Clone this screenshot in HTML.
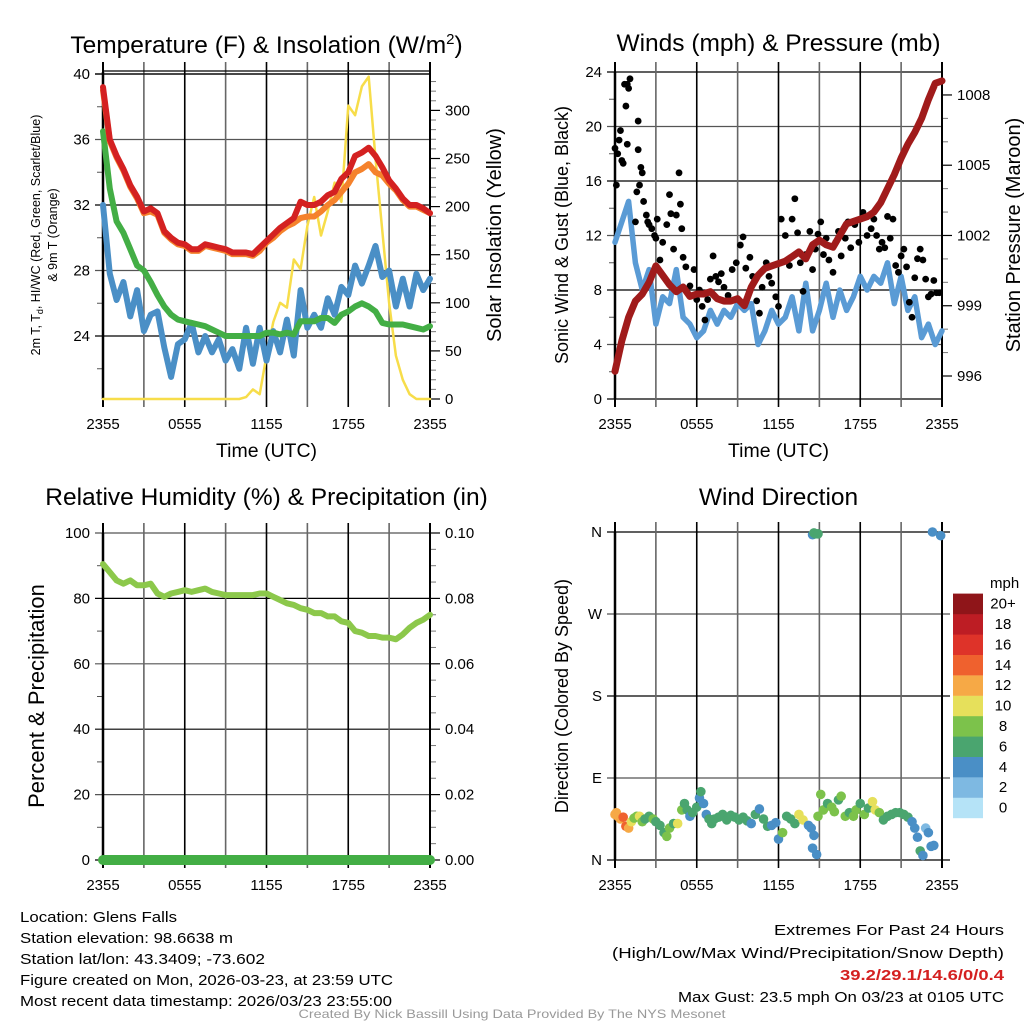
<!DOCTYPE html>
<html><head><meta charset="utf-8"><style>
html,body{margin:0;padding:0;background:#fff}
svg{display:block;font-family:"Liberation Sans",Arial,sans-serif}
</style></head><body>
<svg id="root" width="1024" height="1024" viewBox="0 0 1024 1024" xmlns="http://www.w3.org/2000/svg">
<rect width="1024" height="1024" fill="#fff"/>
<g id="g"></g>
<g font-size="15" fill="#000">
<text x="20" y="922" textLength="157" lengthAdjust="spacingAndGlyphs">Location: Glens Falls</text>
<text x="20" y="943" textLength="213" lengthAdjust="spacingAndGlyphs">Station elevation: 98.6638 m</text>
<text x="20" y="964" textLength="245" lengthAdjust="spacingAndGlyphs">Station lat/lon: 43.3409; -73.602</text>
<text x="20" y="985" textLength="373" lengthAdjust="spacingAndGlyphs">Figure created on Mon, 2026-03-23, at 23:59 UTC</text>
<text x="20" y="1006" textLength="372" lengthAdjust="spacingAndGlyphs">Most recent data timestamp: 2026/03/23 23:55:00</text>
</g>
<g font-size="15" text-anchor="end">
<text x="1004" y="935" textLength="230" lengthAdjust="spacingAndGlyphs">Extremes For Past 24 Hours</text>
<text x="1004" y="958" textLength="392" lengthAdjust="spacingAndGlyphs">(High/Low/Max Wind/Precipitation/Snow Depth)</text>
<text x="1004" y="980" fill="#d42020" font-weight="bold" textLength="164" lengthAdjust="spacingAndGlyphs">39.2/29.1/14.6/0/0.4</text>
<text x="1004" y="1002" textLength="326" lengthAdjust="spacingAndGlyphs">Max Gust: 23.5 mph On 03/23 at 0105 UTC</text>
</g>
<text x="512" y="1018" font-size="12" fill="#999" text-anchor="middle" textLength="427" lengthAdjust="spacingAndGlyphs">Created By Nick Bassill Using Data Provided By The NYS Mesonet</text>
</svg>
<script>
// ---- data (hours since 2355 UTC, step 0.5h) ----
const xTickLabels = ["2355","0555","1155","1755","2355"];
const tempRed = [39.2,36,35,34.2,33.2,32.5,31.6,31.8,31.5,30.4,30,29.7,29.6,29.3,29.3,29.6,29.5,29.4,29.3,29.1,29.1,29.1,29.0,29.4,29.8,30.2,30.6,30.9,31.2,32.2,32.0,32.0,32.2,32.6,32.8,33.6,34.0,35.0,35.2,35.5,35.0,34.3,33.5,33.0,32.4,32.0,32.0,31.8,31.5];
const tempOrange = [39.0,35.9,34.9,34.1,33.1,32.4,31.5,31.6,31.4,30.3,29.9,29.6,29.5,29.2,29.2,29.5,29.4,29.3,29.2,29.0,29.0,29.0,28.9,29.2,29.7,30.0,30.4,30.7,30.9,31.2,31.3,31.3,31.6,32.0,32.3,32.8,33.3,34.0,34.2,34.5,34.0,33.8,33.3,32.9,32.3,31.9,31.9,31.7,31.5];
const dewGreen = [36.5,33,31,30.3,29.3,28.3,28.0,27.3,26.5,25.8,25.3,25.0,24.9,24.8,24.7,24.6,24.4,24.2,24.0,24.0,24.0,24.0,24.0,24.0,24.2,24.2,24.1,24.2,24.1,24.9,24.9,24.9,25.1,25.1,24.8,25.3,25.5,25.8,26.0,25.8,25.5,24.8,24.7,24.7,24.7,24.6,24.5,24.4,24.6];
const chillBlue = [32,27.8,26.2,27.3,25.2,26.8,24.3,25.3,25.5,23.3,21.5,23.5,23.8,24.8,23.0,24.0,23.0,23.8,22.5,23.2,22.0,24.5,22.3,24.5,22.5,24.3,23.0,25.0,22.8,26.8,24.5,25.3,24.5,26.3,25.3,27.0,26.5,28.3,27.2,28.3,29.5,27.6,28.0,25.8,27.5,25.8,27.8,26.8,27.5];
const solar = [0,0,0,0,0,0,0,0,0,0,0,0,0,0,0,0,0,0,0,0,0,2,10,5,45,80,100,95,145,135,180,210,170,195,225,205,305,295,325,335,250,175,100,45,20,5,0,0,0];
const windBlue = [11.5,13,14.5,10,8,9.5,5.5,7.5,7,9.5,6,5.5,4.5,5,6.5,5.5,6.5,6,7,6.5,7,4,5,6.5,5.5,6,7.5,5,8.5,5,6.5,8.5,6,8,6.5,7.5,9,8,9,8.5,10,7,9,6.5,7.5,4.5,5.5,4,5];
const pressure = [996.2,997.5,998.5,999.2,999.5,1000.0,1000.7,1000.3,999.9,999.6,999.8,999.4,999.5,999.5,999.6,999.3,999.2,999.2,999.3,999.0,999.8,1000.3,1000.6,1000.7,1000.8,1000.9,1001.1,1001.3,1001.0,1001.6,1001.8,1001.6,1001.5,1002.0,1002.5,1002.6,1002.7,1002.8,1003.0,1003.4,1004.0,1004.6,1005.3,1005.9,1006.4,1007.0,1007.8,1008.5,1008.6];
const gustHours = [0,0.1,0.2,0.3,0.4,0.5,0.6,0.7,0.8,0.9,1,1.1,0.9,1.5,1.6,1.8,1.7,1.7,1.9,2,2.1,2.3,2.4,2.5,2.7,2.9,3,3.1,3.3,3.5,3.8,4,4.1,4.3,4.5,4.7,4.8,4.9,5,5.2,5.5,5.8,6,6.2,6.4,6.6,6.8,7,7.2,7.4,7.6,7.8,8,8.3,8.6,8.9,9.2,9.4,9.6,9.9,10.1,10.4,10.6,10.8,11.1,11.3,11.5,11.8,12,12.2,12.5,12.8,13,13.2,13.4,13.6,13.8,14,14.3,14.5,14.7,14.9,15.1,15.3,15.5,15.7,16,16.2,16.4,16.6,16.9,17.1,17.3,17.6,17.9,18.2,18.5,18.8,19,19.2,19.4,19.6,19.8,20,20.2,20.4,20.6,20.8,21,21.2,21.4,21.6,21.8,22,22.2,22.4,22.6,22.8,23,23.2,23.4,23.6,23.8];
const gustMph = [18.4,15.7,18,19,19.7,17.5,17.3,23.1,21.5,23.1,22.8,23.5,18.7,13,15.2,15.7,20.4,18.3,17,16.6,14.5,13.5,13,12.8,12.5,12,11.8,13.2,10.2,11.5,12.8,15,13.6,11,13.5,16.6,14.3,12.5,10.4,9.7,8.3,9.5,7.3,8,6.8,5.8,7.3,8.8,10.5,9,8.6,9.2,8.2,7.6,9.5,10,11.3,11.9,9.6,10.4,9,7.2,6.3,8.2,10,9,8.5,7.5,6.8,13.2,12,9.8,13.2,14.7,12.2,10,7.9,10.6,12.3,9.5,11,12.1,13,10.6,11.8,10.2,9.3,11.5,12.3,10.5,11.8,13,11.1,12.8,11.5,13.7,12,12.5,13.2,12,11,11.5,11.1,13.4,11.8,13.2,9.8,9.3,10.5,11,9.7,7.1,6,8.9,10.3,11,10.2,8.8,7.5,7.7,8.7,7.8,7.8];
const rh = [90.5,88,85.5,84.5,85.5,84,84,84.5,81.5,80.5,81.5,82,82.5,82,82.5,83,82,81.5,81,81,81,81,81,81.5,81.5,80.5,79.5,78.5,78,77,76.5,75.5,75.5,74.5,74.5,73,72.5,70,69.5,68.5,68.5,68,68,67.5,69,71,72.5,73.5,75];
const precip = [0,0,0,0,0,0,0,0,0,0,0,0,0,0,0,0,0,0,0,0,0,0,0,0,0,0,0,0,0,0,0,0,0,0,0,0,0,0,0,0,0,0,0,0,0,0,0,0,0];
const dirHours = [0,0.1,0.2,0.3,0.4,0.6,0.8,1,1.2,1.4,1.6,1.8,2,2.2,2.5,2.8,3,3.3,3.6,3.8,4,4.3,4.6,4.9,5.1,5.3,5.5,5.7,6,6.2,6.3,6.5,6.7,6.9,7.1,7.3,7.6,7.9,8.2,8.5,8.8,9.1,9.4,9.7,10,10.3,10.6,10.9,11.2,11.5,11.8,12,12.3,12.6,12.9,13.2,13.5,13.8,14.2,14.4,14.5,14.6,14.8,14.9,15.1,15.3,15.6,15.9,16.1,16.4,16.6,16.9,17.2,17.5,17.7,18,18.3,18.6,18.9,19.1,19.4,19.7,20,20.3,20.6,20.9,21.2,21.5,21.8,22,22.2,22.4,22.6,22.8,23,23.2,23.4,14.5,14.6,14.7,14.9,23.3,23.9];
const dirDeg = [50,52,48,47,45,47,37,35,42,46,48,48,42,45,48,45,42,38,30,26,35,40,40,55,62,55,48,52,58,68,75,62,50,45,40,45,47,50,44,49,47,44,47,43,40,50,56,45,37,38,41,23,30,48,45,40,50,44,38,35,13,27,6,48,72,55,62,58,53,66,70,48,52,48,55,62,50,57,64,55,52,44,48,50,52,52,50,47,42,35,25,10,5,35,30,15,16,357,359,358,358,360,356];
const dirSpeed = [12,12,12,13,12,15,14,12,10,9,8,11,8,7,7,8,7,6,7,8,8,7,10,8,7,7,5,6,7,5,6,5,5,6,6,6,7,6,6,6,6,6,6,6,5,6,5,6,6,5,5,5,8,7,6,6,10,10,5,5,4,4,4,8,8,8,6,8,8,6,8,8,7,8,8,7,8,7,10,10,8,6,7,7,6,6,6,6,5,4,4,6,4,3,4,4,4,4,6,6,6,4,4];
const cbLabels = ["0","2","4","6","8","10","12","14","16","18","20+"];
const cbColors = ["#b5e3f7","#7eb9e2","#4a8fc6","#4aa56f","#7cc24b","#e6e05b","#f6a946","#ef612e","#de3329","#bd1d24","#8f1519"];

const NS="http://www.w3.org/2000/svg";
const G=document.getElementById('g');
function el(tag,attrs,parent){const e=document.createElementNS(NS,tag);for(const k in attrs)e.setAttribute(k,attrs[k]);(parent||G).appendChild(e);return e;}
function txt(s,attrs,parent){const e=el('text',attrs,parent);e.textContent=s;return e;}
const hrs=tempRed.map((_,i)=>i*0.5);

function panel(p){
  const g=el('g',{});
  
  
  const xs=h=>p.x0+(p.x1-p.x0)*h/24;
  p.xs=xs;
  const t=txt(p.title,{x:(p.x0+p.x1)/2+(p.titleDx||0),y:p.titleY,'font-size':24.5,'text-anchor':'middle'},g);
  
  
  if(p.titleSup){const ts=el('tspan',{dy:-9,'font-size':15},t);ts.textContent=p.titleSup;const ts2=el('tspan',{dy:9},t);ts2.textContent=')';}
  p.leftTicks.forEach((v,i)=>{
    const y=p.yl(v);
    const gl=el('line',{x1:p.x0-8,x2:p.x1+(p.rightTicks?0:8),y1:y,y2:y,stroke:i%2?'#555':'#000','stroke-width':1.2},g);
    
    
    const tl=txt(p.leftLabels[i],{x:p.x0-13,y:y+5,'font-size':15,'text-anchor':'end'},g);
    
    
  });
  (p.leftMinor||[]).forEach(v=>{const y=p.yl(v);el('line',{x1:p.x0-6,x2:p.x0,y1:y,y2:y,stroke:'#555'},g);});
  for(let h=0;h<=24;h+=3){
    const x=xs(h);
    const vl=el('line',{x1:x,x2:x,y1:p.y0-10,y2:p.y1+8,stroke:(h/3)%2?'#666':'#000','stroke-width':(h===0||h===24)?2:1.6},g);
    
    
  }
  xTickLabels.forEach((s,i)=>{
    const xl=txt(s,{x:xs(i*6),y:p.y1+30,'font-size':15,'text-anchor':'middle'},g);
    
    
  });
  if(p.xTitle){const xt=txt(p.xTitle,{x:(p.x0+p.x1)/2,y:p.y1+58,'font-size':19.5,'text-anchor':'middle'},g);
    
    }
  if(p.rightTicks){
    p.rightTicks.forEach((v,i)=>{const y=p.yr(v);el('line',{x1:p.x1,x2:p.x1+10,y1:y,y2:y,stroke:'#000','stroke-width':1.2},g);
      const rl=txt(p.rightLabels[i],{x:p.x1+15,y:y+5,'font-size':15},g);
      
      });
    (p.rightMinor||[]).forEach(v=>{const y=p.yr(v);el('line',{x1:p.x1,x2:p.x1+6,y1:y,y2:y,stroke:'#777'},g);});
  }
  el('line',{x1:p.x0,x2:p.x0,y1:p.y0,y2:p.y1,stroke:'#000','stroke-width':2.5},g);
  el('line',{x1:p.x1,x2:p.x1,y1:p.y0,y2:p.y1,stroke:'#000','stroke-width':2},g);
  return g;
}
function line(g,xs,ys,hArr,vals,color,w,name){
  const d=vals.map((v,i)=>(i?'L':'M')+xs(hArr[i]).toFixed(1)+','+ys(v).toFixed(1)).join('');
  const pth=el('path',{d:d,fill:'none',stroke:color,'stroke-width':w,'stroke-linejoin':'round','stroke-linecap':'round'},g);
  
  
}
function rotText(g,s,x,y,size,name){
  const t=txt(s,{x:x,y:y,'font-size':size,'text-anchor':'middle',transform:`rotate(-90 ${x} ${y})`},g);
  
  
  return t;
}

// ---- Panel 1: temperature ----
const p1={name:'temperature-chart',x0:103,x1:430,y0:72,y1:399,titleY:53,titleDx:0,title:'Temperature (F) & Insolation (W/m',titleSup:'2',xTitle:'Time (UTC)',
  yl:v=>336-(v-24)*16.375,yr:v=>399-v*0.962,
  leftTicks:[24,28,32,36,40],leftLabels:["24","28","32","36","40"],leftMinor:[22,26,30,34,38],
  rightTicks:[0,50,100,150,200,250,300],rightLabels:["0","50","100","150","200","250","300"],
  rightMinor:[10,20,30,40,60,70,80,90,110,120,130,140,160,170,180,190,210,220,230,240,260,270,280,290,310,320,330]};
const g1=panel(p1);
el('line',{x1:103,x2:430,y1:71,y2:71,stroke:'#000','stroke-width':1.2},g1);
el('line',{x1:95,x2:430,y1:74,y2:74,stroke:'#000','stroke-width':1.2},g1);
line(g1,p1.xs,p1.yr,hrs,solar,'#f7dd4a',2.5,'solar-insolation-line');
line(g1,p1.xs,p1.yl,hrs,chillBlue,'#4a8fc6',6,'wind-chill-line');
line(g1,p1.xs,p1.yl,hrs,dewGreen,'#43ae45',6,'dewpoint-line');
line(g1,p1.xs,p1.yl,hrs,tempOrange,'#f5822c',6,'temp-9m-line');
line(g1,p1.xs,p1.yl,hrs,tempRed,'#d42121',6,'temp-2m-line');
const yt1=txt('',{x:0,y:0,'font-size':12.5,'text-anchor':'middle',transform:'translate(40 235) rotate(-90)'},g1);


yt1.innerHTML='2m T, T<tspan dy="3" font-size="9">d</tspan><tspan dy="-3">, HI/WC (Red, Green, Scarlet/Blue)</tspan>';
rotText(g1,'& 9m T (Orange)',57,235,12.5,'y-axis-title-line2');
rotText(g1,'Solar Insolation (Yellow)',501,235,20,'right-axis-title');

// ---- Panel 2: winds ----
const p2={name:'winds-chart',x0:615,x1:942,y0:72,y1:399,titleY:51,title:'Winds (mph) & Pressure (mb)',xTitle:'Time (UTC)',
  yl:v=>399-v*13.625,yr:v=>376-(v-996)*23.42,
  leftTicks:[0,4,8,12,16,20,24],leftLabels:["0","4","8","12","16","20","24"],leftMinor:[2,6,10,14,18,22],
  rightTicks:[996,999,1002,1005,1008],rightLabels:["996","999","1002","1005","1008"],
  rightMinor:[997,998,1000,1001,1003,1004,1006,1007]};
const g2=panel(p2);
line(g2,p2.xs,p2.yl,hrs,windBlue,'#5a9bd5',5.5,'sonic-wind-line');
gustHours.forEach((h,i)=>{
  const c=el('circle',{cx:p2.xs(h),cy:p2.yl(gustMph[i]),r:3.4,fill:'#000'},g2);
  
  
});
line(g2,p2.xs,p2.yr,hrs,pressure,'#a01b1b',7,'pressure-line');
rotText(g2,'Sonic Wind & Gust (Blue, Black)',568,235,18,'y-axis-title');
rotText(g2,'Station Pressure (Maroon)',1020,235,20,'right-axis-title');

// ---- Panel 3: RH ----
const p3={name:'humidity-chart',x0:103,x1:430,y0:533,y1:860,titleY:505,title:'Relative Humidity (%) & Precipitation (in)',
  yl:v=>860-v*3.27,yr:v=>860-v*3270,
  leftTicks:[0,20,40,60,80,100],leftLabels:["0","20","40","60","80","100"],leftMinor:[10,30,50,70,90],
  rightTicks:[0,0.02,0.04,0.06,0.08,0.10],rightLabels:["0.00","0.02","0.04","0.06","0.08","0.10"],
  rightMinor:[0.005,0.01,0.015,0.025,0.03,0.035,0.045,0.05,0.055,0.065,0.07,0.075,0.085,0.09,0.095]};
const g3=panel(p3);
line(g3,p3.xs,p3.yl,hrs,rh,'#8cc84b',6,'rh-line');
line(g3,p3.xs,p3.yr,hrs,precip,'#43ae45',10,'precip-line');
rotText(g3,'Percent & Precipitation',44,696,22,'y-axis-title');

// ---- Panel 4: direction ----
const p4={name:'wind-direction-chart',x0:615,x1:942,y0:532,y1:860,titleY:505,title:'Wind Direction',
  yl:v=>860-v*(328/360),
  leftTicks:[0,90,180,270,360],leftLabels:["N","E","S","W","N"]};
const g4=panel(p4);
dirHours.forEach((h,i)=>{
  const idx=Math.min(10,Math.floor(dirSpeed[i]/2));
  const c=el('circle',{cx:p4.xs(h),cy:p4.yl(dirDeg[i]),r:4.8,fill:cbColors[idx]},g4);
  
  
});
rotText(g4,'Direction (Colored By Speed)',568,696,18,'y-axis-title');
const cb=el('g',{},g4);


txt('mph',{x:990,y:588,'font-size':15},cb);
cbLabels.forEach((s,i)=>{
  const y=818-(i+1)*20.4;
  const r=el('rect',{x:953,y:y,width:30,height:20.6,fill:cbColors[i]},cb);
  
  
  const l=txt(s,{x:1003,y:y+15,'font-size':15,'text-anchor':'middle'},cb);
  
  
});
</script>
</body></html>
